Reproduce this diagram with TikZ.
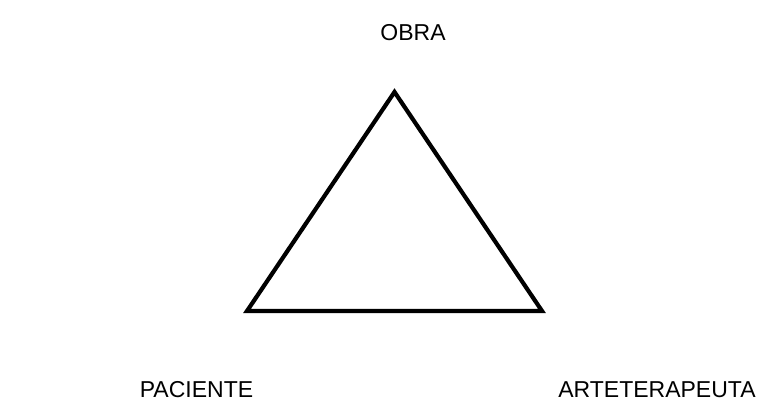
\documentclass[tikz,border=0pt]{standalone}
\usepackage{fontspec}
\setmainfont{Liberation Sans}
\begin{document}
\begin{tikzpicture}[x=1pt,y=-1pt,
  lbl/.style={font=\fontsize{23}{27}\selectfont, inner sep=0pt, anchor=base},
  tri/.style={line width=4.2pt, line join=miter}]
\useasboundingbox (0,0) rectangle (782,410);
\coordinate (top) at (394.5,92);
\coordinate (bl) at (247,311);
\coordinate (br) at (542,311);
\draw[tri] (top) -- (bl) -- (br) -- cycle;
\node[lbl] (obra) at (413,40) {OBRA};
\node[lbl] (pac) at (196.5,397) {PACIENTE};
\node[lbl] (art) at (657,397) {ARTETERAPEUTA};
\end{tikzpicture}
\end{document}
